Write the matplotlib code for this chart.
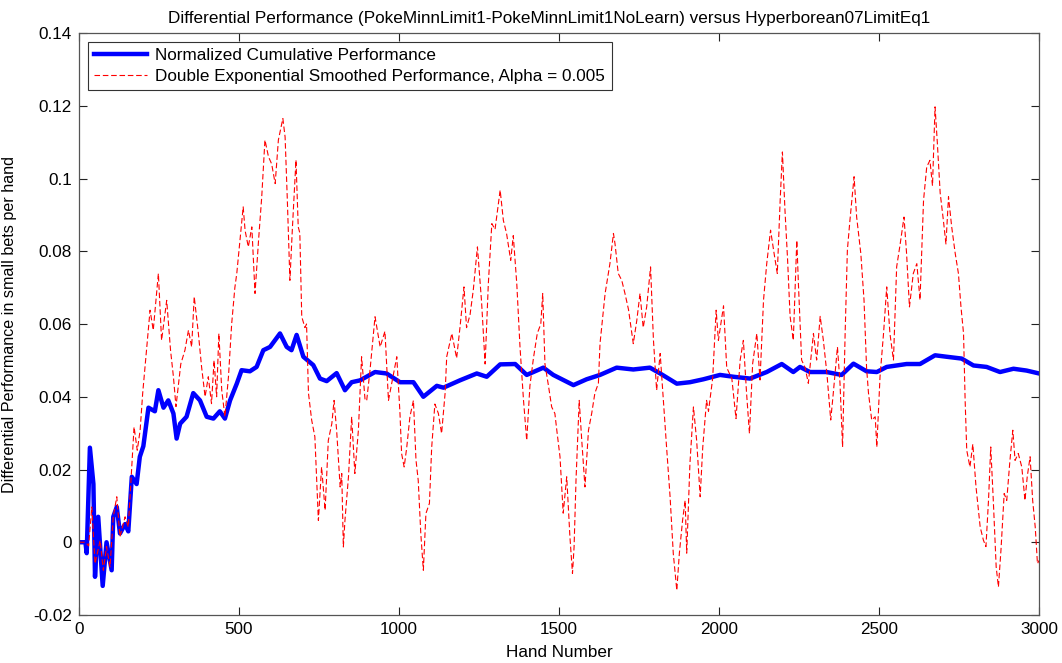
import matplotlib
matplotlib.use("Agg")
from matplotlib import pyplot as plt
import numpy as np

# values
blue_hands = [0, 20, 24, 34, 45, 50, 60, 74, 86, 102, 107, 118, 128, 144, 154, 165, 180, 190, 201,
              217, 237, 248, 264, 279, 295, 305, 316, 336, 357, 378, 399, 420, 440, 456, 472, 493,
              508, 534, 555, 576, 597, 628, 649, 664, 680, 701, 732, 753, 774, 805, 831, 852, 878,
              925, 961, 1003, 1045, 1076, 1118, 1139, 1190, 1243, 1274, 1316, 1363, 1399, 1451,
              1482, 1545, 1586, 1628, 1680, 1732, 1784, 1816, 1868, 1909, 1951, 2003, 2045, 2097,
              2149, 2196, 2232, 2253, 2284, 2336, 2383, 2420, 2461, 2493, 2524, 2586, 2628, 2675,
              2711, 2758, 2795, 2836, 2878, 2920, 2961, 3000]
blue_vals = [0, 0, -0.003, 0.026, 0.016, -0.0095, 0.007, -0.012, 0, -0.0077, 0.007, 0.0097, 0.0024,
             0.005, 0.003, 0.018, 0.016, 0.0235, 0.0264, 0.037, 0.036, 0.0418, 0.037, 0.039, 0.0354,
             0.0285, 0.0326, 0.0345, 0.041, 0.039, 0.0345, 0.034, 0.036, 0.034, 0.039, 0.0436,
             0.0473, 0.047, 0.0482, 0.0528, 0.0537, 0.0574, 0.0537, 0.0528, 0.057, 0.051, 0.0487,
             0.045, 0.0443, 0.0465, 0.0418, 0.044, 0.0445, 0.0468, 0.0464, 0.044, 0.044, 0.040,
             0.043, 0.0425, 0.0445, 0.0464, 0.0455, 0.0489, 0.049, 0.046, 0.048, 0.046, 0.0432,
             0.0448, 0.046, 0.048, 0.0475, 0.048, 0.0464, 0.0436, 0.044, 0.0448, 0.046, 0.0455,
             0.045, 0.0468, 0.049, 0.0468, 0.0482, 0.0468, 0.0468, 0.046, 0.0491, 0.047, 0.0468,
             0.0482, 0.049, 0.049, 0.0514, 0.051, 0.0505, 0.0486, 0.0482, 0.0468, 0.0477, 0.0472,
             0.0464]

red_hands = [0, 20, 30, 40, 50, 66, 76, 86, 97, 107, 118, 128, 144, 154, 165, 172, 182, 191, 199,
             209, 222, 232, 248, 258, 274, 286, 295, 303, 318, 331, 342, 352, 360, 373, 383, 394,
             404, 414, 422, 430, 437, 446, 456, 467, 477, 487, 493, 503, 513, 519, 529, 540, 550,
             561, 571, 581, 592, 602, 613, 623, 637, 644, 651, 659, 667, 678, 685, 690, 696, 706,
             711, 717, 727, 737, 748, 753, 758, 769, 779, 790, 797, 805, 816, 821, 826, 831, 842,
             852, 862, 873, 883, 894, 899, 909, 925, 941, 956, 967, 982, 993, 1003, 1008, 1016,
             1024, 1034, 1045, 1053, 1060, 1068, 1076, 1084, 1095, 1102, 1112, 1123, 1133, 1144,
             1149, 1165, 1180, 1191, 1203, 1211, 1222, 1232, 1245, 1258, 1269, 1279, 1290, 1300,
             1316, 1326, 1336, 1349, 1357, 1368, 1378, 1389, 1399, 1409, 1420, 1432, 1443, 1449,
             1456, 1467, 1477, 1487, 1493, 1503, 1513, 1524, 1534, 1542, 1547, 1553, 1563, 1571,
             1581, 1592, 1602, 1612, 1623, 1628, 1644, 1659, 1670, 1675, 1685, 1696, 1706, 1717,
             1732, 1743, 1753, 1763, 1774, 1786, 1795, 1805, 1816, 1826, 1836, 1847, 1857, 1868,
             1876, 1886, 1894, 1899, 1909, 1920, 1930, 1941, 1949, 1961, 1967, 1980, 1991, 1998,
             2014, 2024, 2040, 2053, 2066, 2076, 2086, 2095, 2105, 2118, 2128, 2139, 2149, 2161,
             2172, 2182, 2191, 2198, 2206, 2214, 2222, 2232, 2243, 2248, 2258, 2269, 2279, 2295,
             2305, 2316, 2326, 2337, 2349, 2357, 2370, 2378, 2386, 2394, 2401, 2409, 2422, 2430,
             2443, 2453, 2461, 2467, 2477, 2488, 2493, 2503, 2514, 2524, 2534, 2545, 2555, 2566,
             2578, 2586, 2595, 2607, 2618, 2628, 2639, 2649, 2659, 2667, 2675, 2682, 2691, 2701,
             2709, 2717, 2727, 2738, 2748, 2756, 2764, 2769, 2774, 2784, 2793, 2803, 2816, 2826,
             2834, 2842, 2849, 2857, 2866, 2873, 2881, 2891, 2899, 2909, 2918, 2925, 2935, 2946,
             2956, 2963, 2972, 2980, 2988, 2995, 3000]
red_vals = [0.0, 0.0, -0.001, 0.0097, -0.0059, 0.0005, -0.0077, -0.0012, -0.0068, 0.007, 0.0125,
            0.0015, 0.007, 0.0042, 0.0207, 0.0317, 0.0253, 0.0308, 0.041, 0.051, 0.0638, 0.0583,
            0.0739, 0.0555, 0.0665, 0.0528, 0.0455, 0.0373, 0.049, 0.0528, 0.0583, 0.0537, 0.0675,
            0.0574, 0.0482, 0.040, 0.0455, 0.0381, 0.050, 0.040, 0.0574, 0.0418, 0.0345, 0.0455,
            0.060, 0.070, 0.0739, 0.083, 0.0922, 0.0857, 0.0812, 0.0867, 0.0684, 0.083, 0.095,
            0.1106, 0.106, 0.104, 0.0986, 0.1106, 0.1165, 0.1114, 0.094, 0.072, 0.0867, 0.1051,
            0.0867, 0.085, 0.062, 0.059, 0.060, 0.041, 0.0336, 0.029, 0.006, 0.0134, 0.0207, 0.0088,
            0.028, 0.0326, 0.039, 0.0308, 0.0152, 0.0189, -0.0013, 0.006, 0.018, 0.0345, 0.0189,
            0.0308, 0.051, 0.039, 0.039, 0.047, 0.062, 0.0537, 0.058, 0.039, 0.046, 0.051, 0.0354,
            0.0244, 0.0207, 0.026, 0.0345, 0.039, 0.0226, 0.017, 0.0024, -0.0077, 0.0079, 0.0107,
            0.026, 0.038, 0.0354, 0.0299, 0.041, 0.051, 0.0574, 0.0506, 0.0595, 0.0702, 0.059,
            0.0626, 0.0693, 0.0812, 0.066, 0.049, 0.071, 0.0876, 0.086, 0.0968, 0.0885, 0.0849,
            0.0775, 0.0843, 0.071, 0.0537, 0.039, 0.028, 0.043, 0.0506, 0.0574, 0.060, 0.0684,
            0.049, 0.043, 0.0372, 0.0354, 0.0308, 0.0235, 0.008, 0.018, 0.0015, -0.0086, -0.0013,
            0.017, 0.039, 0.028, 0.0152, 0.0308, 0.0354, 0.041, 0.0437, 0.0546, 0.0684, 0.0766,
            0.0849, 0.082, 0.0739, 0.072, 0.0684, 0.064, 0.0546, 0.061, 0.0684, 0.059, 0.0648,
            0.0757, 0.0556, 0.0418, 0.0519, 0.039, 0.0262, 0.0125, -0.0031, -0.0132, -0.003, 0.006,
            0.0115, -0.003, 0.0216, 0.0372, 0.028, 0.0125, 0.026, 0.039, 0.036, 0.045, 0.0638,
            0.0555, 0.065, 0.048, 0.045, 0.034, 0.0501, 0.0555, 0.041, 0.0299, 0.0491, 0.0574,
            0.0446, 0.0666, 0.0766, 0.0858, 0.0794, 0.0739, 0.094, 0.1073, 0.0913, 0.078, 0.0621,
            0.0555, 0.083, 0.0711, 0.0501, 0.048, 0.0437, 0.0574, 0.0501, 0.0621, 0.0555, 0.0464,
            0.0336, 0.041, 0.0537, 0.0437, 0.0262, 0.0574, 0.0803, 0.0885, 0.1005, 0.0894, 0.0794,
            0.0666, 0.048, 0.041, 0.0336, 0.0345, 0.0262, 0.0455, 0.0574, 0.0702, 0.0574, 0.0501,
            0.0757, 0.082, 0.0894, 0.0794, 0.0647, 0.0739, 0.0766, 0.0666, 0.094, 0.1032, 0.105,
            0.098, 0.1197, 0.110, 0.096, 0.0885, 0.082, 0.095, 0.0867, 0.0794, 0.0739, 0.0647,
            0.0574, 0.039, 0.0253, 0.0207, 0.027, 0.0152, 0.0042, 0.0006, -0.0012, 0.0115, 0.0262,
            0.0115, -0.0068, -0.0123, -0.0021, 0.0134, 0.0115, 0.0225, 0.0308, 0.0225, 0.0244,
            0.0207, 0.0115, 0.018, 0.0235, 0.0115, 0.0042, -0.0059, -0.005]

x_ticks = [0, 500, 1000, 1500, 2000, 2500, 3000]
y_ticks = [-0.02, 0, 0.02, 0.04, 0.06, 0.08, 0.1, 0.12, 0.14]
y_labels = ["-0.02", "0", "0.02", "0.04", "0.06", "0.08", "0.1", "0.12", "0.14"]

plt.rcParams['font.family'] = ['Liberation Sans', 'DejaVu Sans']

fig = plt.figure(figsize=(10.62, 6.63), dpi=100)
ax = fig.add_axes([0.0744, 0.0724, 0.9040, 0.8778])

ax.plot(blue_hands, blue_vals, color='#0000ff', lw=3.2,
        label='Normalized Cumulative Performance')
ax.plot(red_hands, red_vals, color='#ff0000', lw=0.8, ls=(0, (5, 2.5)),
        label='Double Exponential Smoothed Performance, Alpha = 0.005')

ax.set_xlim(0, 3000)
ax.set_ylim(-0.02, 0.14)
ax.set_xticks(x_ticks)
ax.set_yticks(y_ticks)
ax.set_yticklabels(y_labels)
ax.tick_params(direction='in', length=6, width=0.8, top=True, right=True,
               labelsize=12.3, pad=5, colors='#222222', labelcolor='black')
for s in ax.spines.values():
    s.set_color('#555555')
    s.set_linewidth(0.9)

ax.set_title('Differential Performance (PokeMinnLimit1-PokeMinnLimit1NoLearn) versus Hyperborean07LimitEq1',
             fontsize=12.3, pad=7, x=0.49)
ax.set_xlabel('Hand Number', fontsize=12.3, labelpad=6)
ax.set_ylabel('Differential Performance in small bets per hand', fontsize=11.6, labelpad=12)

leg = ax.legend(loc='upper left', fontsize=12.3, handlelength=3.1, borderaxespad=0.5,
                fancybox=False, framealpha=1, edgecolor='#333333', borderpad=0.4,
                labelspacing=0.3, handletextpad=0.45)
leg.get_frame().set_linewidth(0.8)

fig.savefig('out.png', dpi=100)
